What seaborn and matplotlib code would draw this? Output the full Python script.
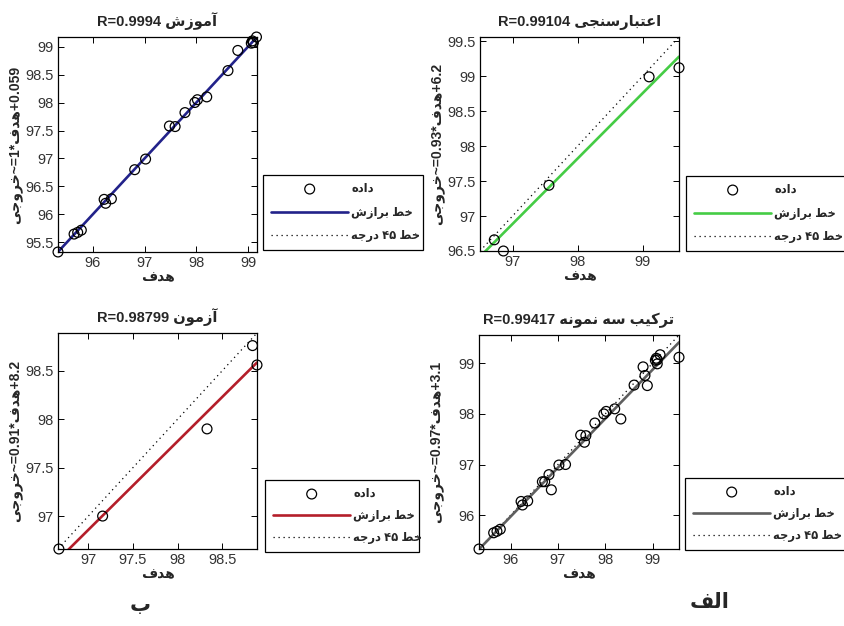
import matplotlib
matplotlib.use("Agg")
import matplotlib.pyplot as plt
from matplotlib.ticker import MultipleLocator, FormatStrFormatter
import numpy as np
import pandas as pd
import seaborn as sns

# ---------------------------------------------------------------- data
train_target = [95.33, 95.64, 95.71, 95.78, 96.22, 96.25, 96.36, 96.81, 97.02, 97.48, 97.59,
                97.78, 97.97, 98.02, 98.20, 98.61, 98.80, 99.06, 99.08, 99.10, 99.16]
train_output = [95.33, 95.65, 95.68, 95.72, 96.27, 96.20, 96.28, 96.80, 96.99, 97.58, 97.57,
                97.82, 98.00, 98.05, 98.10, 98.57, 98.93, 99.06, 99.10, 99.07, 99.17]

val_target = [96.72, 96.86, 97.56, 99.10, 99.56]
val_output = [96.66, 96.50, 97.44, 98.99, 99.12]

test_target = [96.67, 97.16, 98.33, 98.84, 98.89]
test_output = [96.66, 97.00, 97.90, 98.76, 98.56]

all_target = train_target + val_target + test_target
all_output = train_output + val_output + test_output

# regression of output on target for every set
fit_slope = [0.9994, 0.9345, 0.914, 0.967]
fit_intercept = [0.059, 6.24, 8.2, 3.14]
r_values = ["0.9994", "0.99104", "0.98799", "0.99417"]
set_names = ["آموزش", "اعتبارسنجی", "آزمون", "ترکیب سه نمونه"]
fit_colors = ["#22228a", "#45cc45", "#b41e2a", "#5f5f5f"]
x_steps = [1, 1, 0.5, 1]
y_steps = [0.5, 0.5, 0.5, 1]

legend_labels = ["داده", "خط برازش", "خط ۴۵ درجه"]
x_title = "هدف"
y_title = "خروجی"
panel_tags = ["الف", "ب"]

# ---------------------------------------------------------------- Persian shaping
FORMS = {
    'ا': ('\uFE8D', '\uFE8E', None, None),
    'آ': ('\uFE81', '\uFE82', None, None),
    'ب': ('\uFE8F', '\uFE90', '\uFE91', '\uFE92'),
    'ت': ('\uFE95', '\uFE96', '\uFE97', '\uFE98'),
    'ج': ('\uFE9D', '\uFE9E', '\uFE9F', '\uFEA0'),
    'خ': ('\uFEA5', '\uFEA6', '\uFEA7', '\uFEA8'),
    'د': ('\uFEA9', '\uFEAA', None, None),
    'ر': ('\uFEAD', '\uFEAE', None, None),
    'ز': ('\uFEAF', '\uFEB0', None, None),
    'س': ('\uFEB1', '\uFEB2', '\uFEB3', '\uFEB4'),
    'ش': ('\uFEB5', '\uFEB6', '\uFEB7', '\uFEB8'),
    'ط': ('\uFEC1', '\uFEC2', '\uFEC3', '\uFEC4'),
    'ع': ('\uFEC9', '\uFECA', '\uFECB', '\uFECC'),
    'ف': ('\uFED1', '\uFED2', '\uFED3', '\uFED4'),
    'ک': ('\uFED9', '\uFEDA', '\uFEDB', '\uFEDC'),
    'ل': ('\uFEDD', '\uFEDE', '\uFEDF', '\uFEE0'),
    'م': ('\uFEE1', '\uFEE2', '\uFEE3', '\uFEE4'),
    'ن': ('\uFEE5', '\uFEE6', '\uFEE7', '\uFEE8'),
    'ه': ('\uFEE9', '\uFEEA', '\uFEEB', '\uFEEC'),
    'و': ('\uFEED', '\uFEEE', None, None),
    'ی': ('\uFEEF', '\uFEF0', '\uFEF3', '\uFEF4'),
}


def shape_word(word):
    out = []
    for i, ch in enumerate(word):
        f = FORMS.get(ch)
        if f is None:
            out.append(ch)
            continue
        prev = word[i - 1] if i > 0 else None
        nxt = word[i + 1] if i + 1 < len(word) else None
        join_prev = prev in FORMS and FORMS[prev][2] is not None
        join_next = f[2] is not None and nxt in FORMS
        if join_prev and join_next:
            out.append(f[3])
        elif join_prev:
            out.append(f[1])
        elif join_next:
            out.append(f[2])
        else:
            out.append(f[0])
    return out


def fa(text):
    """Return a right-to-left phrase in left-to-right display order."""
    vis = []
    for w in reversed(text.split(' ')):
        if any(c in FORMS for c in w):
            vis.append(''.join(reversed(shape_word(w))))
        else:
            vis.append(w)
    return ' '.join(vis)


# ---------------------------------------------------------------- style
sns.set_theme(style="white")
plt.rcParams['font.family'] = ['Liberation Sans', 'DejaVu Sans']
plt.rcParams.update({
    'xtick.direction': 'in', 'ytick.direction': 'in',
    'xtick.major.size': 4, 'ytick.major.size': 4,
    'xtick.major.width': 0.7, 'ytick.major.width': 0.7,
    'xtick.top': True, 'ytick.right': True,
    'xtick.bottom': True, 'ytick.left': True,
    'axes.edgecolor': 'black', 'axes.linewidth': 0.9,
    'xtick.color': 'black', 'ytick.color': 'black',
    'xtick.labelcolor': '#333333', 'ytick.labelcolor': '#333333',
    'xtick.labelsize': 10.5, 'ytick.labelsize': 10.5,
    'xtick.major.pad': 3, 'ytick.major.pad': 3,
})

W, H = 844, 626
fig = plt.figure(figsize=(W / 100, H / 100), dpi=100)
fig.patch.set_facecolor('white')


def rect(l, t, r, b):
    return [l / W, 1 - b / H, (r - l) / W, (b - t) / H]


axes_px = [(58, 37, 257, 252), (480, 37, 679, 251), (58, 333, 257, 549), (479, 335, 679, 549)]
legend_px = [(263, 175, 423), (686, 176, 850), (265, 480, 419), (685, 478, 850)]
legend_gap = [1.0, 1.0, 0.85, 0.85]

sets = [(train_target, train_output), (val_target, val_output),
        (test_target, test_output), (all_target, all_output)]

for k in range(4):
    tgt, out = sets[k]
    ax = fig.add_axes(rect(*axes_px[k]))
    ax.set_facecolor('white')
    lim = np.array([min(min(tgt), min(out)), max(max(tgt), max(out))])

    df = pd.DataFrame({'target': tgt, 'output': out})
    fit_df = pd.DataFrame({'target': lim, 'output': fit_slope[k] * lim + fit_intercept[k]})
    ident_df = pd.DataFrame({'target': lim, 'output': lim})

    sns.lineplot(data=ident_df, x='target', y='output', ax=ax, color='black',
                 linestyle=(0, (1, 3)), linewidth=0.9, label=fa(legend_labels[2]), zorder=1)
    sns.lineplot(data=fit_df, x='target', y='output', ax=ax, color=fit_colors[k],
                 linewidth=1.9, label=fa(legend_labels[1]), zorder=2)
    sns.scatterplot(data=df, x='target', y='output', ax=ax, marker='o', s=50,
                    facecolors='none', edgecolors='black', linewidths=0.9,
                    label=fa(legend_labels[0]), zorder=3, clip_on=False)

    ax.set_xlim(lim)
    ax.set_ylim(lim)
    ax.xaxis.set_major_locator(MultipleLocator(x_steps[k]))
    ax.yaxis.set_major_locator(MultipleLocator(y_steps[k]))
    ax.xaxis.set_major_formatter(FormatStrFormatter('%g'))
    ax.yaxis.set_major_formatter(FormatStrFormatter('%g'))
    for s in ax.spines.values():
        s.set_visible(True)
        s.set_color('black')

    ax.set_title(f"R={r_values[k]} " + fa(set_names[k]), fontsize=10.5,
                 fontweight='bold', pad=8)
    ax.set_xlabel(fa(x_title), fontsize=10, fontweight='bold')
    m_txt = f"{fit_slope[k]:.2g}"
    b_txt = f"{fit_intercept[k]:.2g}"
    ax.set_ylabel(fa(y_title) + "~=" + m_txt + "*" + fa(x_title) + "+" + b_txt,
                  fontsize=10, fontweight='bold')
    ax_h = axes_px[k][3] - axes_px[k][1]
    ax_w = axes_px[k][2] - axes_px[k][0]
    ax.xaxis.set_label_coords(0.5, -18 / ax_h)
    ax.yaxis.set_label_coords(-36 / ax_w, 0.5)

    # legend: scatter first, then fit line, then 45-degree line
    handles, labels = ax.get_legend_handles_labels()
    order = [2, 1, 0]
    if ax.get_legend():
        ax.get_legend().remove()
    lx0, ly0, lx1 = legend_px[k]
    leg = fig.legend([handles[i] for i in order], [labels[i] for i in order],
                     loc='upper left',
                     bbox_to_anchor=(lx0 / W, 1 - ly0 / H, (lx1 - lx0) / W, 0),
                     mode='expand', frameon=True, fancybox=False, framealpha=1,
                     edgecolor='black', borderpad=0.7, labelspacing=legend_gap[k],
                     handlelength=6.7, handletextpad=0.25, borderaxespad=0,
                     scatterpoints=1, prop={'weight': 'bold', 'size': 8.3})
    leg.get_frame().set_linewidth(0.9)

fig.text(710 / W, 1 - 602 / H, fa(panel_tags[0]), fontsize=15, fontweight='bold',
         ha='center', va='center')
fig.text(140 / W, 1 - 606 / H, fa(panel_tags[1]), fontsize=15, fontweight='bold',
         ha='center', va='center')

fig.savefig('out.png', dpi=100, facecolor='white')
